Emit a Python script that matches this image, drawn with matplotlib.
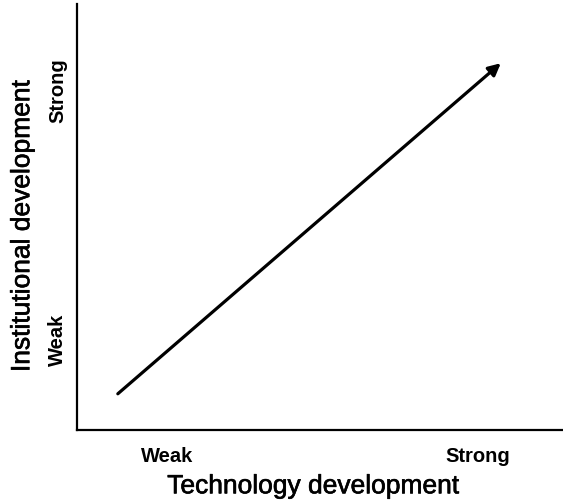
import matplotlib.pyplot as plt
import matplotlib.patheffects as pe

# Categories on both axes and their positions (axes fraction)
x_labels = ["Weak", "Strong"]
x_pos = [0.185, 0.825]
y_labels = ["Weak", "Strong"]
y_pos = [0.214, 0.80]

# Arrow start and end (technology, institutional)
arrow_start = (0.084, 0.085)
arrow_end = (0.872, 0.861)

plt.rcParams['font.family'] = ['Liberation Sans', 'DejaVu Sans']

fig = plt.figure(figsize=(5.63, 5.02), dpi=100)
ax = fig.add_axes([77 / 563, 1 - 431 / 502, 486 / 563, 426 / 502])
ax.set_xlim(0, 1)
ax.set_ylim(0, 1)

# Only left and bottom lines
ax.spines['top'].set_visible(False)
ax.spines['right'].set_visible(False)
ax.spines['left'].set_linewidth(1.6)
ax.spines['bottom'].set_linewidth(1.6)

ax.set_xticks(x_pos)
ax.set_xticklabels(x_labels, fontsize=14.5, fontweight='bold')
ax.set_yticks(y_pos)
ax.set_yticklabels(y_labels, fontsize=14.5, fontweight='bold',
                   rotation=90, va='center')
ax.tick_params(axis='x', length=0, pad=11.5)
ax.tick_params(axis='y', length=0, pad=7)

# slightly heavier look of the axis titles
heavy = [pe.withStroke(linewidth=0.45, foreground='black')]
ax.set_xlabel("Technology development", fontsize=19, path_effects=heavy)
ax.set_ylabel("Institutional development", fontsize=19, path_effects=heavy)
ax.xaxis.set_label_coords(0.486, -0.104)
ax.yaxis.set_label_coords(-0.088, 0.479)

ax.annotate("", xy=arrow_end, xytext=arrow_start,
            arrowprops=dict(arrowstyle='-|>', color='black', lw=2.3,
                            mutation_scale=18, shrinkA=0, shrinkB=0))

fig.savefig("out.png", dpi=100)
